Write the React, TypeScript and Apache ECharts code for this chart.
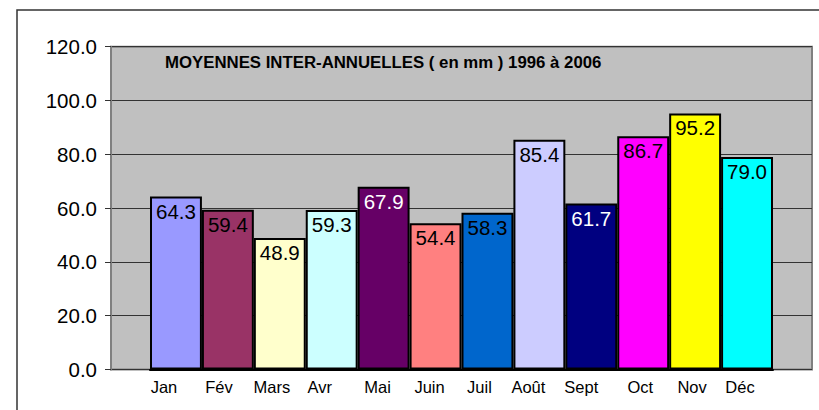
import React, { useEffect, useRef } from "react";
import * as echarts from "echarts";

const months = ["Jan", "Fév", "Mars", "Avr", "Mai", "Juin", "Juil", "Août", "Sept", "Oct", "Nov", "Déc"];
const values = [64.3, 59.4, 48.9, 59.3, 67.9, 54.4, 58.3, 85.4, 61.7, 86.7, 95.2, 79.0];
const barColors = ["#9999FF", "#993366", "#FFFFCC", "#CCFFFF", "#660066", "#FF8080", "#0066CC", "#CCCCFF", "#000080", "#FF00FF", "#FFFF00", "#00FFFF"];
const labelColors = ["#000", "#000", "#000", "#000", "#fff", "#000", "#000", "#000", "#fff", "#000", "#000", "#000"];
const titleText = "MOYENNES INTER-ANNUELLES ( en mm ) 1996 à 2006";
// horizontal shift (px, leftwards) of each month label relative to its bar centre
const monthLabelShift = [12, 9, 8, 12, 6, 6, 8, 11, 10, 3, 3, 7];

const FONT = "Arial, 'Liberation Sans', Helvetica, sans-serif";

export default function App() {
  const ref = useRef<HTMLDivElement>(null);
  useEffect(() => {
    if (!ref.current) return;
    const chart = echarts.init(ref.current, null, { renderer: "svg" });
    const plotTop = 46.7;
    const plotH = 322.8;
    const rich: Record<string, any> = {};
    monthLabelShift.forEach((s, i) => {
      rich["m" + i] = {
        fontFamily: FONT,
        fontSize: 16.5,
        color: "#000",
        padding: [0, 2 * s, 0, 0],
      };
    });
    chart.setOption({
      animation: false,
      backgroundColor: "#fff",
      title: {
        text: titleText,
        left: 165,
        top: 54,
        padding: 0,
        textStyle: { fontFamily: FONT, fontSize: 16.8, fontWeight: "bold", color: "#000" },
      },
      graphic: [
        {
          type: "rect",
          shape: { x: 17, y: 10, width: 830, height: 430 },
          style: { fill: "none", stroke: "#333", lineWidth: 1.5 },
          silent: true,
          z: -1,
        },
      ],
      grid: [
        {
          left: 111,
          top: plotTop,
          width: 701,
          height: plotH,
          show: true,
          backgroundColor: "#C0C0C0",
          borderColor: "#808080",
          borderWidth: 2,
        },
        { left: 150, top: plotTop, width: 623, height: plotH },
      ],
      xAxis: [
        { type: "category", gridIndex: 0, data: [""], show: false },
        {
          type: "category",
          gridIndex: 1,
          data: months,
          axisLine: { show: true, lineStyle: { color: "#000", width: 2 } },
          axisTick: { show: false },
          axisLabel: {
            interval: 0,
            hideOverlap: false,
            fontFamily: FONT,
            fontSize: 16.5,
            color: "#000",
            margin: 9,
            formatter: (v: string, i: number) => `{m${i}|${v}}`,
            rich,
          },
        },
      ],
      yAxis: [
        {
          type: "value",
          gridIndex: 0,
          min: 0,
          max: 120,
          interval: 20,
          axisLine: { show: true, lineStyle: { color: "#808080", width: 2 } },
          axisTick: { show: true, length: 6, lineStyle: { color: "#333" } },
          splitLine: { show: true, lineStyle: { color: "#333", width: 1 } },
          axisLabel: {
            fontFamily: FONT,
            fontSize: 20.5,
            color: "#000",
            margin: 14,
            formatter: (v: number) => v.toFixed(1),
          },
        },
        { type: "value", gridIndex: 1, min: 0, max: 120, show: false, splitLine: { show: false } },
      ],
      series: [
        {
          type: "bar",
          xAxisIndex: 1,
          yAxisIndex: 1,
          barCategoryGap: 0,
          data: values.map((v, i) => ({
            value: v,
            itemStyle: { color: barColors[i] },
            label: { color: labelColors[i] },
          })),
          itemStyle: { borderColor: "#000", borderWidth: 2 },
          label: {
            show: true,
            position: "insideTop",
            distance: 4,
            fontFamily: FONT,
            fontSize: 20.5,
            formatter: (p: any) => Number(p.value).toFixed(1),
          },
        },
      ],
    });
    return () => chart.dispose();
  }, []);
  return <div ref={ref} style={{ position: "fixed", left: 0, top: 0, width: 819, height: 410 }} />;
}
